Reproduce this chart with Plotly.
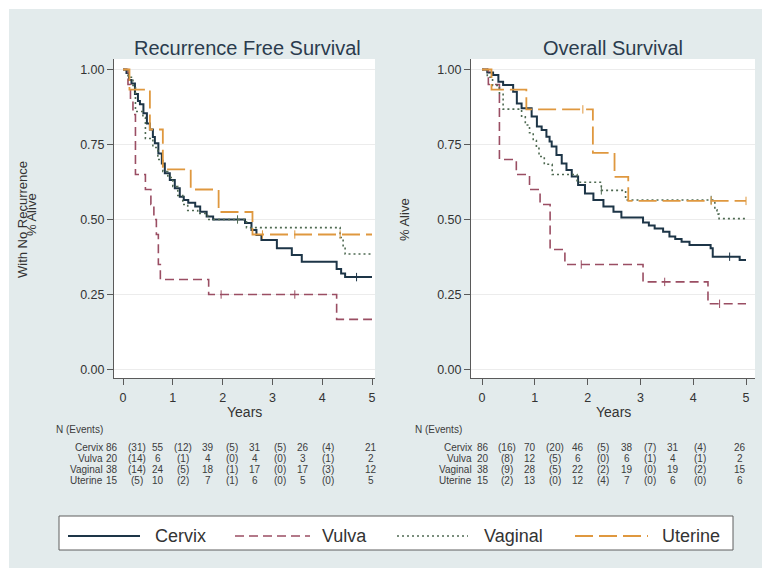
import plotly.graph_objects as go
import numpy as np

# page body has an 8px margin: figure is sized to fit the window and shifted
OFF = 8
W, H = 772 - OFF, 568 - OFF
FONT = "Liberation Sans, Arial, sans-serif"

# ------------------------------------------------------------------ data
groups = ["Cervix", "Vulva", "Vaginal", "Uterine"]
year_ticks = [0, 1, 2, 3, 4, 5]
surv_ticks = [0, 0.25, 0.5, 0.75, 1.0]
surv_ticktext = ["0.00", "0.25", "0.50", "0.75", "1.00"]

# Recurrence free survival (KM change points)
rfs_cervix_t = [0, 0.07, 0.12, 0.17, 0.24, 0.30, 0.34, 0.41, 0.48, 0.54, 0.60, 0.64, 0.71, 0.78, 0.84, 0.94,
                1.04, 1.14, 1.22, 1.31, 1.45, 1.55, 1.68, 1.81, 2.45, 2.58, 2.68, 2.78, 3.09, 3.39, 3.59,
                4.29, 4.38, 4.46, 5.0]
rfs_cervix_s = [1.0, 0.988, 0.965, 0.953, 0.918, 0.895, 0.884, 0.854, 0.82, 0.80, 0.775, 0.754, 0.72, 0.687,
                0.654, 0.632, 0.604, 0.576, 0.565, 0.556, 0.543, 0.526, 0.51, 0.50, 0.488, 0.465, 0.448,
                0.432, 0.404, 0.382, 0.359, 0.335, 0.32, 0.308, 0.308]
rfs_vulva_t = [0, 0.10, 0.15, 0.20, 0.25, 0.45, 0.56, 0.62, 0.67, 0.71, 0.75, 1.72, 4.29, 5.0]
rfs_vulva_s = [1.0, 0.95, 0.90, 0.85, 0.65, 0.60, 0.55, 0.50, 0.45, 0.35, 0.30, 0.25, 0.167, 0.167]
rfs_vaginal_t = [0, 0.10, 0.20, 0.25, 0.40, 0.45, 0.60, 0.70, 0.80, 0.90, 1.00, 1.10, 1.20, 1.30, 1.50,
                 1.70, 2.48, 4.36, 4.42, 4.46, 5.0]
rfs_vaginal_s = [1.0, 0.974, 0.947, 0.86, 0.84, 0.77, 0.74, 0.70, 0.66, 0.64, 0.61, 0.58, 0.55, 0.53, 0.52,
                 0.50, 0.473, 0.44, 0.41, 0.385, 0.385]
rfs_uterine_t = [0, 0.13, 0.54, 0.80, 1.36, 1.92, 2.60, 5.0]
rfs_uterine_s = [1.0, 0.933, 0.80, 0.667, 0.60, 0.525, 0.45, 0.45]

rfs_censor = {"Cervix": [4.69], "Vulva": [1.97, 3.45], "Vaginal": [2.3], "Uterine": [2.8, 3.45, 4.36]}

# Overall survival
os_cervix_t = [0, 0.10, 0.21, 0.31, 0.40, 0.59, 0.66, 0.75, 0.94, 1.04, 1.13, 1.22, 1.28, 1.32, 1.41, 1.51,
               1.60, 1.70, 1.82, 1.95, 2.11, 2.30, 2.49, 2.64, 3.05, 3.16, 3.27, 3.43, 3.55, 3.66, 3.78,
               3.93, 4.33, 4.37, 4.88, 5.0]
os_cervix_s = [1.0, 0.99, 0.982, 0.959, 0.948, 0.926, 0.887, 0.871, 0.843, 0.81, 0.798, 0.776, 0.76, 0.743,
               0.715, 0.687, 0.665, 0.643, 0.615, 0.587, 0.565, 0.543, 0.526, 0.507, 0.49, 0.48, 0.47,
               0.459, 0.443, 0.435, 0.426, 0.415, 0.404, 0.376, 0.365, 0.365]
os_vulva_t = [0, 0.12, 0.33, 0.65, 0.90, 1.10, 1.29, 1.57, 3.05, 4.28, 5.0]
os_vulva_s = [1.0, 0.95, 0.70, 0.65, 0.60, 0.55, 0.40, 0.35, 0.292, 0.219, 0.219]
os_vaginal_t = [0, 0.10, 0.20, 0.33, 0.40, 0.75, 0.82, 0.90, 0.97, 1.03, 1.08, 1.18, 1.33, 1.80, 2.26,
                2.72, 4.41, 4.45, 4.49, 5.0]
os_vaginal_s = [1.0, 0.974, 0.947, 0.921, 0.868, 0.842, 0.815, 0.789, 0.763, 0.737, 0.71, 0.684, 0.65,
                0.624, 0.597, 0.565, 0.532, 0.518, 0.503, 0.503]
os_uterine_t = [0, 0.18, 0.84, 2.10, 2.51, 2.77, 5.0]
os_uterine_s = [1.0, 0.933, 0.867, 0.722, 0.642, 0.562, 0.562]

os_censor = {"Cervix": [4.69], "Vulva": [1.88, 3.46, 4.5], "Vaginal": [2.26, 4.34], "Uterine": [1.91, 4.34, 5.0]}

# Number at risk (N) and events between years
rfs_n = {"Cervix": [86, 55, 39, 31, 26, 21], "Vulva": [20, 6, 4, 4, 3, 2],
         "Vaginal": [38, 24, 18, 17, 17, 12], "Uterine": [15, 10, 7, 6, 5, 5]}
rfs_ev = {"Cervix": [31, 12, 5, 5, 4], "Vulva": [14, 1, 0, 0, 1],
          "Vaginal": [14, 5, 1, 0, 3], "Uterine": [5, 2, 1, 0, 0]}
os_n = {"Cervix": [86, 70, 46, 38, 31, 26], "Vulva": [20, 12, 6, 6, 4, 2],
        "Vaginal": [38, 28, 22, 19, 19, 15], "Uterine": [15, 13, 12, 7, 6, 6]}
os_ev = {"Cervix": [16, 20, 5, 7, 4], "Vulva": [8, 5, 0, 1, 1],
         "Vaginal": [9, 5, 2, 0, 2], "Uterine": [2, 0, 4, 0, 0]}

rfs_series = {"Cervix": (rfs_cervix_t, rfs_cervix_s), "Vulva": (rfs_vulva_t, rfs_vulva_s),
              "Vaginal": (rfs_vaginal_t, rfs_vaginal_s), "Uterine": (rfs_uterine_t, rfs_uterine_s)}
os_series = {"Cervix": (os_cervix_t, os_cervix_s), "Vulva": (os_vulva_t, os_vulva_s),
             "Vaginal": (os_vaginal_t, os_vaginal_s), "Uterine": (os_uterine_t, os_uterine_s)}

# ------------------------------------------------------------------ styles
style = {
    "Cervix": dict(color="#1d3547", width=2.0, dash="solid"),
    "Vulva": dict(color="#9a4e63", width=1.6, dash="9px,5px"),
    "Vaginal": dict(color="#4f6a52", width=1.6, dash="2px,3px"),
    "Uterine": dict(color="#df983f", width=1.8, dash="18px,6px"),
}
PANEL = "#e3ebec"
TXT = "#333333"


def px(x):
    return (x - OFF) / W


def py(y):
    return 1 - (y - OFF) / H


fig = go.Figure()


def add_km(series, censor, xa, ya):
    for g in groups:
        t, s = series[g]
        st = style[g]
        fig.add_trace(go.Scatter(x=t, y=s, mode="lines", line_shape="hv",
                                 line=dict(color=st["color"], width=st["width"], dash=st["dash"]),
                                 xaxis=xa, yaxis=ya, showlegend=False, hoverinfo="skip"))
        ct = censor[g]
        if ct:
            idx = np.searchsorted(np.array(t), np.array(ct), side="right") - 1
            cy = [s[i] for i in idx]
            fig.add_trace(go.Scatter(x=ct, y=cy, mode="markers",
                                     marker=dict(symbol="line-ns", size=6,
                                                 line=dict(color=st["color"], width=1)),
                                     xaxis=xa, yaxis=ya, showlegend=False, hoverinfo="skip"))


add_km(rfs_series, rfs_censor, "x", "y")
add_km(os_series, os_censor, "x2", "y2")

# axes geometry
y_dom = [py(378), py(59)]
y_rng = [(369.5 - 378) / 300, (369.5 - 59) / 300]
ax_common = dict(showline=True, linecolor="#5a5a5a", linewidth=1, ticks="outside", ticklen=6,
                 tickcolor="#5a5a5a", tickfont=dict(family=FONT, size=12.5, color=TXT),
                 zeroline=False)
fig.update_layout(
    xaxis=dict(domain=[px(114), px(375)], range=[-9 / 49.8, 5 + 3 / 49.8], tickvals=year_ticks,
               showgrid=False, anchor="y", ticklabelstandoff=2, **ax_common),
    yaxis=dict(domain=y_dom, range=y_rng, tickvals=surv_ticks, ticktext=surv_ticktext,
               showgrid=True, gridcolor="#ececec", gridwidth=1, anchor="x", **ax_common),
    xaxis2=dict(domain=[px(471), px(755)], range=[-11 / 52.8, 5 + 9 / 52.8], tickvals=year_ticks,
                showgrid=False, anchor="y2", ticklabelstandoff=2, **ax_common),
    yaxis2=dict(domain=y_dom, range=y_rng, tickvals=surv_ticks, ticktext=surv_ticktext,
                showgrid=True, gridcolor="#ececec", gridwidth=1, anchor="x2", **ax_common),
)

shapes = []
# white outer frame strips
for (x0, y0, x1, y1) in [(OFF, OFF, 772, 9), (OFF, OFF, 9, 568), (762, OFF, 772, 568)]:
    shapes.append(dict(type="rect", xref="paper", yref="paper", x0=px(x0), x1=px(x1), y0=py(y1), y1=py(y0),
                       fillcolor="white", line=dict(width=0), layer="below"))

# legend box
shapes.append(dict(type="rect", xref="paper", yref="paper", x0=px(59), x1=px(733), y0=py(550), y1=py(516),
                   fillcolor="white", line=dict(color="#5f5f5f", width=1)))
annotations = []
leg_line = {"Cervix": (68, 140, 153), "Vulva": (235, 310, 320), "Vaginal": (397, 468, 482),
            "Uterine": (575, 648, 660)}
for g in groups:
    a, b, tx = leg_line[g]
    st = style[g]
    shapes.append(dict(type="line", xref="paper", yref="paper", x0=px(a), x1=px(b), y0=py(536), y1=py(536),
                       line=dict(color=st["color"], width=st["width"], dash=st["dash"])))
    annotations.append(dict(text=g, xref="paper", yref="paper", x=px(tx), y=py(536), xanchor="left",
                            yanchor="middle", showarrow=False, font=dict(family=FONT, size=18, color=TXT)))

# titles
for text, cx in [("Recurrence Free Survival", 247), ("Overall Survival", 613)]:
    annotations.append(dict(text=text, xref="paper", yref="paper", x=px(cx), y=py(48), xanchor="center",
                            yanchor="middle", showarrow=False, font=dict(family=FONT, size=20, color="#2b3c4e")))
for cx in [245, 613]:
    annotations.append(dict(text="Years", xref="paper", yref="paper", x=px(cx), y=py(412), xanchor="center",
                            yanchor="middle", showarrow=False, font=dict(family=FONT, size=14, color=TXT)))
# y titles
annotations.append(dict(text="With No Recurrence", xref="paper", yref="paper", x=px(22), y=py(220),
                        textangle=-90, xanchor="center", yanchor="middle", showarrow=False,
                        font=dict(family=FONT, size=13, color=TXT)))
annotations.append(dict(text="% Alive", xref="paper", yref="paper", x=px(31), y=py(215),
                        textangle=-90, xanchor="center", yanchor="middle", showarrow=False,
                        font=dict(family=FONT, size=13, color=TXT)))
annotations.append(dict(text="% Alive", xref="paper", yref="paper", x=px(404), y=py(220),
                        textangle=-90, xanchor="center", yanchor="middle", showarrow=False,
                        font=dict(family=FONT, size=13, color=TXT)))

# risk tables
row_y = [447, 458, 469, 480]
tables = [
    (rfs_n, rfs_ev, 105, 54, [112, 158, 208, 255, 303, 371], [137, 183, 232, 280, 328]),
    (os_n, os_ev, 474, 413, [483, 530, 578, 627, 673, 740], [507, 555, 603, 650, 700]),
]
small = dict(family=FONT, size=10, color="#3c3c3c")
for n_d, ev_d, lab_x, head_x, ncols, ecols in tables:
    annotations.append(dict(text="N (Events)", xref="paper", yref="paper", x=px(head_x), y=py(429),
                            xanchor="left", yanchor="middle", showarrow=False, font=small))
    for g, ry in zip(groups, row_y):
        annotations.append(dict(text=g, xref="paper", yref="paper", x=px(lab_x), y=py(ry), xanchor="right",
                                yanchor="middle", showarrow=False, font=small))
        for v, cx in zip(n_d[g], ncols):
            annotations.append(dict(text=str(v), xref="paper", yref="paper", x=px(cx), y=py(ry),
                                    xanchor="center", yanchor="middle", showarrow=False, font=small))
        for v, cx in zip(ev_d[g], ecols):
            annotations.append(dict(text="(%d)" % v, xref="paper", yref="paper", x=px(cx), y=py(ry),
                                    xanchor="center", yanchor="middle", showarrow=False, font=small))

fig.update_layout(width=W, height=H, margin=dict(l=0, r=0, t=0, b=0), paper_bgcolor=PANEL,
                  plot_bgcolor="white", shapes=shapes, annotations=annotations, showlegend=False,
                  font=dict(family=FONT, color=TXT))
fig.write_html("out.html")
